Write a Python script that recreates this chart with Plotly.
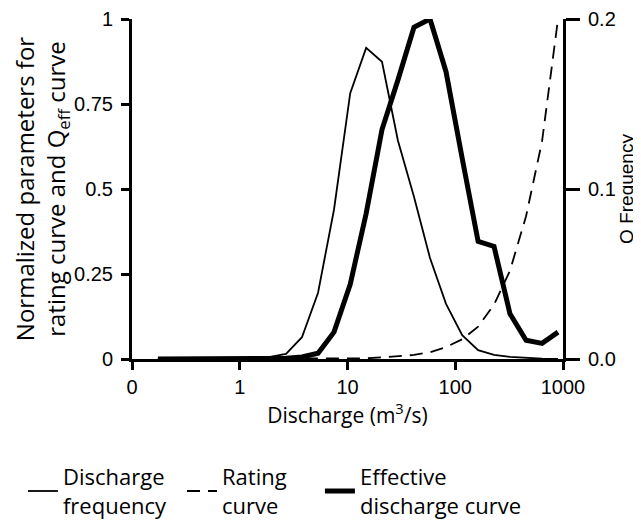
import plotly.graph_objects as go

# Discharge bins (m3/s)
discharge = [0.174, 0.245, 0.345, 0.486, 0.684, 0.963, 1.36, 1.91, 2.69, 3.78,
             5.33, 7.49, 10.6, 14.9, 20.9, 29.4, 41.4, 58.3, 82.1, 116,
             163, 229, 322, 454, 639, 899]

# Discharge frequency (right axis, Q Frequency)
q_frequency = [0.0, 0.0, 0.0, 0.0, 0.0002, 0.0004, 0.0006, 0.0012, 0.003, 0.0128,
               0.039, 0.0878, 0.1564, 0.183, 0.1748, 0.1284, 0.0954, 0.0594, 0.0324, 0.014,
               0.0052, 0.0024, 0.0012, 0.0006, 0.0002, 0.0]

# Normalized rating curve (left axis)
rating_curve = [0.0, 0.0, 0.0, 0.0, 0.0, 0.0, 0.0001, 0.0001, 0.0002, 0.0003,
                0.0005, 0.0008, 0.001, 0.002, 0.005, 0.008, 0.012, 0.02, 0.035, 0.058,
                0.095, 0.16, 0.26, 0.42, 0.64, 1.0]

# Normalized effective discharge curve (left axis)
effective_curve = [0.0, 0.0, 0.0, 0.0, 0.0, 0.0, 0.0, 0.001, 0.002, 0.006,
                   0.017, 0.079, 0.22, 0.428, 0.675, 0.821, 0.976, 1.0, 0.845, 0.59,
                   0.346, 0.331, 0.133, 0.055, 0.046, 0.079]

x_tickvals = [0.1, 1, 10, 100, 1000]
x_ticktext = ["0", "1", "10", "100", "1000"]
y_tickvals = [0, 0.25, 0.5, 0.75, 1]
y_ticktext = ["0", "0.25", "0.5", "0.75", "1"]
y2_tickvals = [0, 0.1, 0.2]
y2_ticktext = ["0.0", "0.1", "0.2"]

series_names = ["Discharge<br>frequency", "Rating<br>curve", "Effective<br>discharge curve"]

fig = go.Figure()
fig.add_trace(go.Scatter(x=discharge, y=q_frequency, name=series_names[0], mode="lines",
                         yaxis="y2", legend="legend",
                         line=dict(color="black", width=1.8), cliponaxis=False))
fig.add_trace(go.Scatter(x=discharge, y=rating_curve, name=series_names[1], mode="lines",
                         legend="legend2",
                         line=dict(color="black", width=1.8, dash="13px,8px"), cliponaxis=False))
fig.add_trace(go.Scatter(x=discharge, y=effective_curve, name=series_names[2], mode="lines",
                         legend="legend3",
                         line=dict(color="black", width=5), cliponaxis=False))

tickfont = dict(family="Arial", size=20, color="black")
titlefont = dict(family="Open Sans", size=24, color="black")
legendfont = dict(family="Open Sans", size=22, color="black")

def legend_at(xpos):
    return dict(orientation="v", x=xpos, y=-0.285, xanchor="left", yanchor="top",
                xref="paper", yref="paper", font=legendfont, valign="middle",
                bgcolor="rgba(0,0,0,0)", borderwidth=0)

fig.update_layout(
    width=641, height=526,
    margin=dict(l=124, r=86, t=11, b=175, autoexpand=False),
    paper_bgcolor="white", plot_bgcolor="white",
    showlegend=True,
    legend=legend_at(-0.253),
    legend2=legend_at(0.116),
    legend3=legend_at(0.436),
    xaxis=dict(type="log", range=[-1, 3], tickvals=x_tickvals, ticktext=x_ticktext,
               automargin=False, ticklabeloverflow="allow",
               showline=True, linecolor="black", linewidth=3, ticks="outside",
               ticklen=8, tickwidth=3, tickcolor="black", showgrid=False, zeroline=False,
               tickfont=tickfont,
               title=dict(text="Discharge (m<sup>3</sup>/s)",
                          font=dict(family="Open Sans", size=21, color="black"), standoff=0)),
    yaxis=dict(range=[0, 1], tickvals=y_tickvals, ticktext=y_ticktext,
               automargin=False, ticklabeloverflow="allow",
               showline=True, linecolor="black", linewidth=3, ticks="outside",
               ticklen=8, tickwidth=3, tickcolor="black", showgrid=False, zeroline=False,
               tickfont=tickfont, ticklabelstandoff=4,
               title=dict(text="Normalized parameters for<br>rating curve and Q<sub>eff</sub> curve",
                          font=titlefont, standoff=4)),
    yaxis2=dict(range=[0, 0.2], tickvals=y2_tickvals, ticktext=y2_ticktext,
                overlaying="y", side="right", anchor="x", automargin=False,
                ticklabeloverflow="allow",
                showline=True, linecolor="black", linewidth=3, ticks="outside",
                ticklen=14, tickwidth=3, tickcolor="black", showgrid=False, zeroline=False,
                tickfont=tickfont, ticklabelstandoff=4,
                title=dict(text="Q Frequency",
                           font=dict(family="Arial", size=19, color="black"),
                           standoff=0)),
    yaxis3=dict(range=[0, 0.2], tickvals=y2_tickvals, overlaying="y", side="right", anchor="x",
                automargin=False,
                showline=False, ticks="inside", ticklen=8, tickwidth=3, tickcolor="black",
                showticklabels=False, showgrid=False, zeroline=False),
)

fig.write_html("out.html")
